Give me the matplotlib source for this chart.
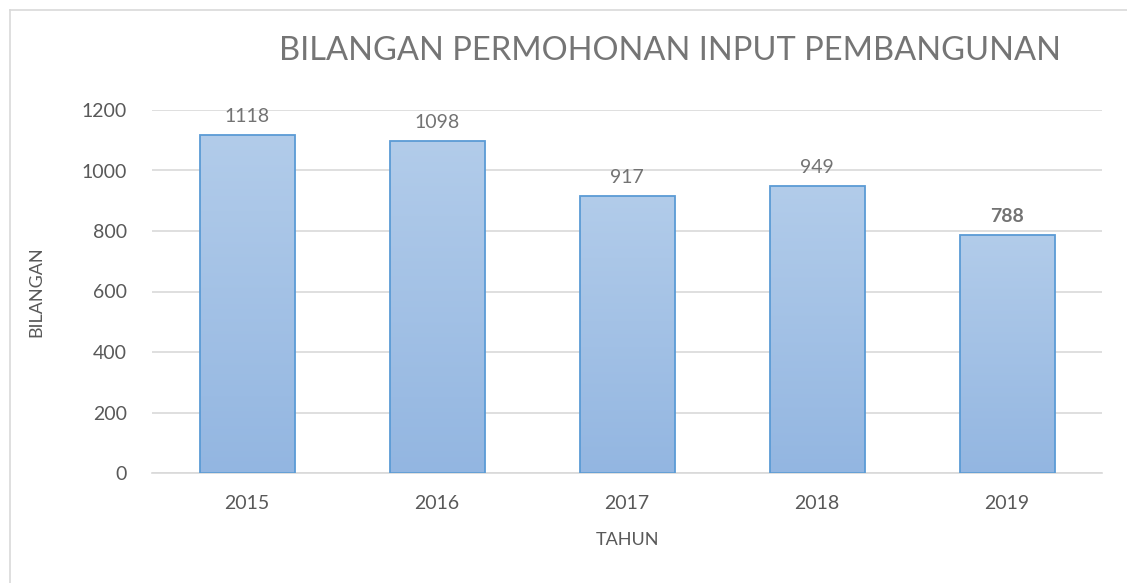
import numpy as np
import matplotlib.pyplot as plt
from matplotlib.lines import Line2D
from matplotlib.colors import LinearSegmentedColormap

years = ["2015", "2016", "2017", "2018", "2019"]
counts = [1118, 1098, 917, 949, 788]
bold_labels = [False, False, False, False, True]

plt.rcParams["font.family"] = ["Lato", "DejaVu Sans"]

fig = plt.figure(figsize=(11.27, 5.83), dpi=100)
ax = fig.add_axes([152 / 1127, 1 - 473 / 583, 950 / 1127, 363 / 583])

x = np.arange(len(years))
bars = ax.bar(x, counts, width=0.5, color="none", edgecolor="#5B9BD5",
              linewidth=1.3, zorder=3)

# Excel style vertical gradient in every bar
grad_cmap = LinearSegmentedColormap.from_list("bar", ["#93B6E1", "#B2CCEA"])
grad = np.linspace(0, 1, 256).reshape(-1, 1)
for b in bars:
    x0, y0 = b.get_x(), b.get_y()
    im = ax.imshow(grad, cmap=grad_cmap, aspect="auto", origin="lower",
                   extent=[x0, x0 + b.get_width(), y0, y0 + b.get_height()],
                   zorder=2, interpolation="bicubic")
    im.set_clip_path(b)

for b, v, bold in zip(bars, counts, bold_labels):
    ax.annotate(str(v), (b.get_x() + b.get_width() / 2, v),
                xytext=(0, 7), textcoords="offset points",
                ha="center", va="bottom", fontsize=14,
                color="#737373", fontweight="bold" if bold else "normal")

ax.set_xlim(-0.5, len(years) - 0.5)
ax.set_ylim(0, 1200)
ax.set_yticks(range(0, 1201, 200))
ax.set_xticks(x)
ax.set_xticklabels(years)
ax.tick_params(axis="both", length=0, labelsize=14, labelcolor="#595959")
ax.tick_params(axis="y", pad=18)
ax.tick_params(axis="x", pad=16)
ax.grid(axis="y", color="#D9D9D9", linewidth=1.2, zorder=0)
for s in ["top", "right", "left"]:
    ax.spines[s].set_visible(False)
ax.spines["bottom"].set_color("#D9D9D9")
ax.spines["bottom"].set_linewidth(1.2)

ax.set_xlabel("TAHUN", fontsize=13, color="#595959", labelpad=14)
ax.set_ylabel("BILANGAN", fontsize=13, color="#595959", labelpad=27)

fig.text(670 / 1127, 1 - 51 / 583, "BILANGAN PERMOHONAN INPUT PEMBANGUNAN",
         ha="center", va="center", fontsize=23.5, color="#757575")

# chart frame, only left and top edges fall inside the picture
fx, fy = 10 / 1127, 1 - 10 / 583
fig.add_artist(Line2D([fx, fx], [0, fy], transform=fig.transFigure,
                      color="#D9D9D9", linewidth=1.2))
fig.add_artist(Line2D([fx, 1], [fy, fy], transform=fig.transFigure,
                      color="#D9D9D9", linewidth=1.2))

fig.savefig("out.png", dpi=100)
